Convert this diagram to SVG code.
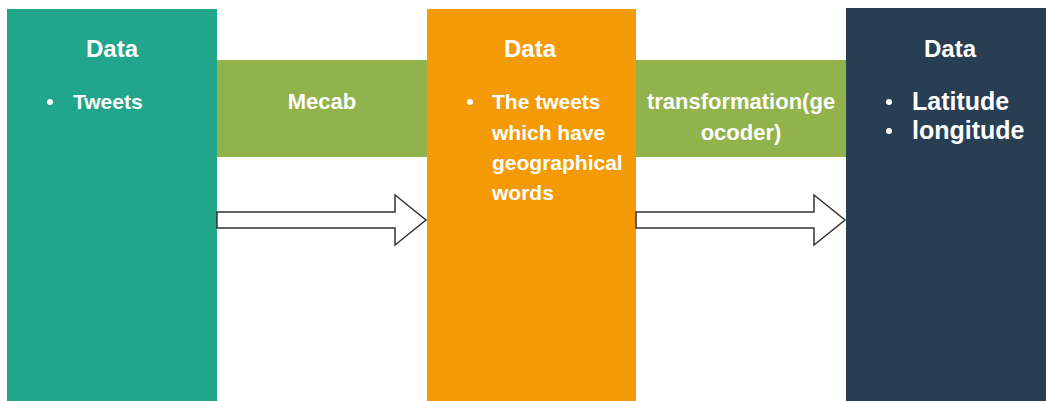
<svg xmlns="http://www.w3.org/2000/svg" width="1046" height="401" viewBox="0 0 1046 401">
  <style>
    text { font-family: "Liberation Sans", Arial, sans-serif; fill: #ffffff; font-weight: bold; }
    .title { font-size: 24px; text-anchor: middle; }
    .item { font-size: 21px; }
    .mid { font-size: 22px; text-anchor: middle; }
    .big { font-size: 25px; }
    .band { fill: #92b24b; }
    .arrow { fill: #ffffff; stroke: #333333; stroke-width: 1.5; stroke-linejoin: miter; }
  </style>

  <rect width="1046" height="401" fill="#ffffff"/>

  <!-- processing steps between the data stages -->
  <g id="step-mecab">
    <rect class="band" x="217" y="60" width="210" height="97"/>
    <text class="mid" x="322" y="109">Mecab</text>
  </g>
  <g id="step-geocoder">
    <rect class="band" x="636" y="60" width="210" height="97"/>
    <text class="mid" x="741" y="109">transformation(ge</text>
    <text class="mid" x="741" y="140">ocoder)</text>
  </g>

  <!-- data stages -->
  <g id="data-tweets">
    <rect x="7" y="9" width="210" height="400" fill="#21a58b"/>
    <text class="title" x="112" y="57">Data</text>
    <circle cx="50" cy="102" r="3" fill="#ffffff"/>
    <text class="item" x="73" y="109">Tweets</text>
  </g>

  <g id="data-geo-tweets">
    <rect x="427" y="9" width="209" height="400" fill="#f39a06"/>
    <text class="title" x="530" y="57">Data</text>
    <circle cx="470" cy="102" r="3" fill="#ffffff"/>
    <text class="item" x="492" y="109">The tweets</text>
    <text class="item" x="492" y="140">which have</text>
    <text class="item" x="492" y="170">geographical</text>
    <text class="item" x="492" y="200">words</text>
  </g>

  <g id="data-coords">
    <rect x="846" y="8" width="210" height="400" fill="#283e52"/>
    <text class="title" x="950" y="57">Data</text>
    <circle cx="889" cy="102" r="3" fill="#ffffff"/>
    <text class="big" x="912" y="110">Latitude</text>
    <circle cx="889" cy="131" r="3" fill="#ffffff"/>
    <text class="big" x="912" y="139">longitude</text>
  </g>

  <!-- flow arrows -->
  <g id="connectors">
    <path class="arrow" d="M217,212 H395 V195 L426,220 L395,245 V228 H217 Z"/>
    <path class="arrow" d="M636,212 H814 V195 L845,220 L814,245 V228 H636 Z"/>
  </g>
</svg>
